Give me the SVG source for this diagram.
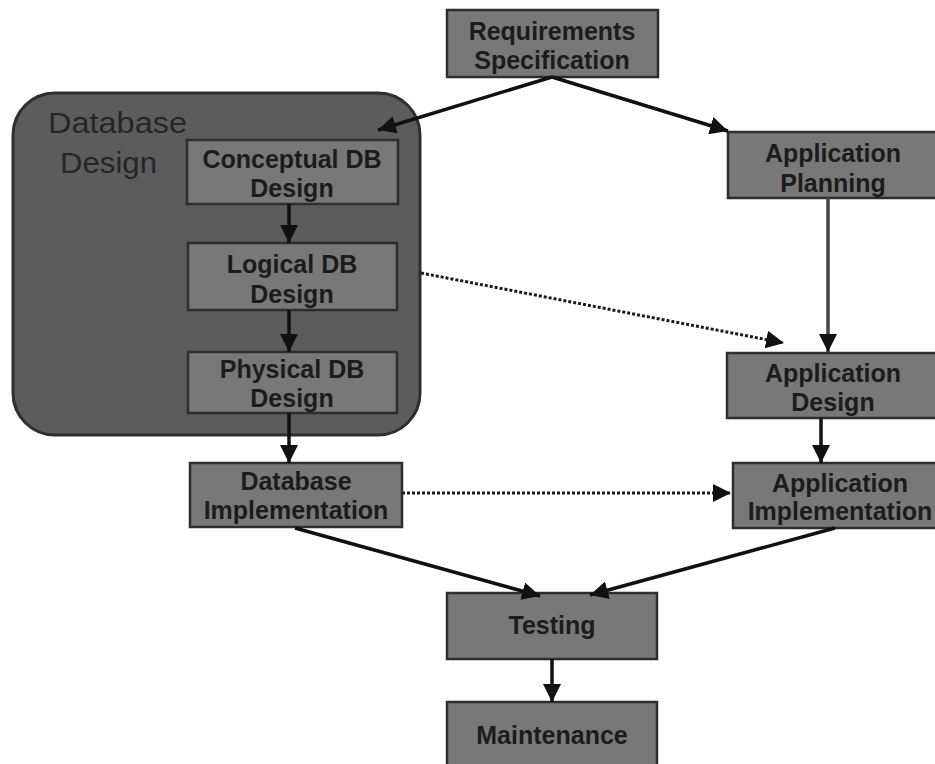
<svg xmlns="http://www.w3.org/2000/svg" width="935" height="764" viewBox="0 0 935 764">
  <defs>
    <marker id="ah" viewBox="0 0 10 10" refX="10" refY="5" markerWidth="18" markerHeight="18" markerUnits="userSpaceOnUse" orient="auto">
      <path d="M0,0 L10,5 L0,10 z" fill="#111"/>
    </marker>
    <style>
      .box { fill: #787878; stroke: #2e2e2e; stroke-width: 2.5; }
      .lbl { font-family: "Liberation Sans", Arial, sans-serif; font-weight: bold; font-size: 25px; fill: #1c1c1c; text-anchor: middle; }
      .grp { font-family: "Liberation Sans", Arial, sans-serif; font-size: 30px; fill: #262626; }
      .solid { stroke: #111; stroke-width: 3.5; fill: none; marker-end: url(#ah); }
      .dot { stroke: #1a1a1a; stroke-width: 3; stroke-dasharray: 3 2; fill: none; marker-end: url(#ah); }
    </style>
  </defs>
  <rect width="935" height="764" fill="#ffffff"/>

  <g id="database-design">
    <rect x="13" y="93" width="407" height="342" rx="42" ry="42" fill="#5c5c5c" stroke="#2e2e2e" stroke-width="3"/>
    <text class="grp" x="48" y="133" textLength="139" lengthAdjust="spacingAndGlyphs">Database</text>
    <text class="grp" x="60" y="173" textLength="97" lengthAdjust="spacingAndGlyphs">Design</text>
  </g>

  <g id="requirements">
    <rect class="box" x="447" y="10" width="211" height="67"/>
    <text class="lbl" x="552" y="40">Requirements</text>
    <text class="lbl" x="552" y="69">Specification</text>
  </g>

  <g id="conceptual">
    <rect class="box" x="187" y="140" width="211" height="64"/>
    <text class="lbl" x="292" y="168">Conceptual DB</text>
    <text class="lbl" x="292" y="197">Design</text>
  </g>

  <g id="logical">
    <rect class="box" x="188" y="243" width="209" height="67"/>
    <text class="lbl" x="292" y="273">Logical DB</text>
    <text class="lbl" x="292" y="303">Design</text>
  </g>

  <g id="physical">
    <rect class="box" x="188" y="352" width="209" height="61"/>
    <text class="lbl" x="292" y="378">Physical DB</text>
    <text class="lbl" x="292" y="407">Design</text>
  </g>

  <g id="db-implementation">
    <rect class="box" x="190" y="463" width="212" height="64"/>
    <text class="lbl" x="296" y="490">Database</text>
    <text class="lbl" x="296" y="519">Implementation</text>
  </g>

  <g id="app-planning">
    <rect class="box" x="728" y="132" width="212" height="66"/>
    <text class="lbl" x="833" y="162">Application</text>
    <text class="lbl" x="833" y="192">Planning</text>
  </g>

  <g id="app-design">
    <rect class="box" x="727" y="353" width="213" height="65"/>
    <text class="lbl" x="833" y="382">Application</text>
    <text class="lbl" x="833" y="411">Design</text>
  </g>

  <g id="app-implementation">
    <rect class="box" x="733" y="463" width="215" height="65"/>
    <text class="lbl" x="840" y="492">Application</text>
    <text class="lbl" x="840" y="520">Implementation</text>
  </g>

  <g id="testing">
    <rect class="box" x="447" y="593" width="210" height="66"/>
    <text class="lbl" x="552" y="634">Testing</text>
  </g>

  <g id="maintenance">
    <rect class="box" x="447" y="702" width="210" height="70"/>
    <text class="lbl" x="552" y="744">Maintenance</text>
  </g>

  <g id="connectors">
    <line class="solid" x1="552" y1="77" x2="378" y2="130"/>
    <line class="solid" x1="552" y1="77" x2="728" y2="131"/>
    <line class="solid" x1="289" y1="204" x2="289" y2="243"/>
    <line class="solid" x1="289" y1="310" x2="289" y2="352"/>
    <line class="solid" x1="289" y1="413" x2="289" y2="463"/>
    <line class="solid" x1="828" y1="198" x2="828" y2="352" style="stroke:#444"/>
    <line class="solid" x1="821" y1="418" x2="821" y2="463"/>
    <line class="dot" x1="421" y1="273" x2="784" y2="343"/>
    <line class="dot" x1="402" y1="493" x2="731" y2="493"/>
    <line class="solid" x1="295" y1="528" x2="540" y2="596"/>
    <line class="solid" x1="835" y1="528" x2="590" y2="595"/>
    <line class="solid" x1="552" y1="659" x2="552" y2="702"/>
  </g>
</svg>
